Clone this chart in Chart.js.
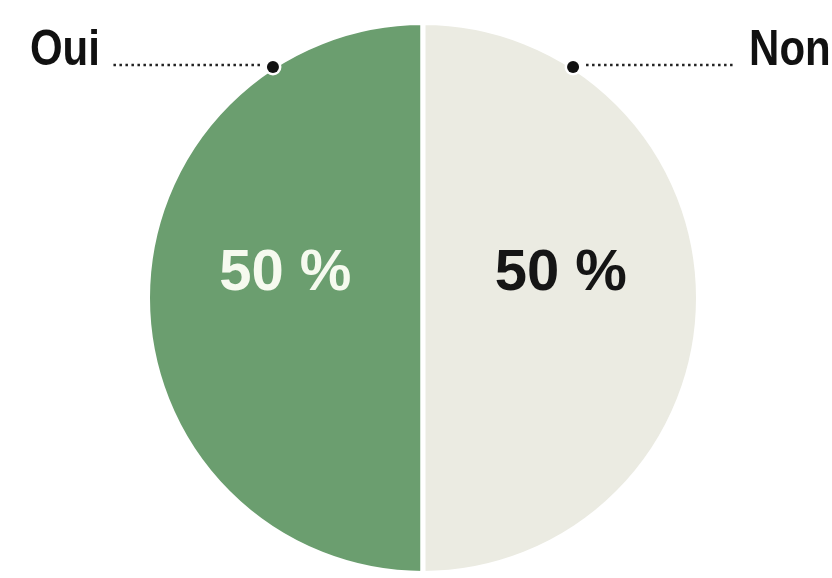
<!DOCTYPE html>
<html>
<head>
<meta charset="utf-8">
<title>Oui / Non</title>
<script src="https://cdn.jsdelivr.net/npm/chart.js"></script>
<style>
    html, body { margin: 0; padding: 0; background: #ffffff; }
    #pie { display: block; }
</style>
</head>
<body>
<canvas id="pie" width="832" height="578"></canvas>
<script>
"use strict";

// data
var categories = ["Oui", "Non"];
var shares = [50, 50];
var sliceColors = ["#6b9e6f", "#ebebe2"];
var shareTextColors = ["#f6faef", "#151515"];

// draws the "50 %" labels and the Oui / Non callouts
var calloutPlugin = {
    id: "callouts",
    afterDatasetsDraw: function(chart) {
        var ctx = chart.ctx;
        var meta = chart.getDatasetMeta(0);
        ctx.save();
        meta.data.forEach(function(arc, i) {
            var mid = (arc.startAngle + arc.endAngle) / 2;
            var r = arc.outerRadius;
            var left = Math.cos(mid) < 0;

            // share in the middle of the slice
            ctx.font = "bold 58px 'Liberation Sans', Arial, sans-serif";
            ctx.fillStyle = shareTextColors[i];
            ctx.textAlign = "center";
            ctx.textBaseline = "alphabetic";
            ctx.fillText(shares[i] + " %", arc.x + Math.cos(mid) * r * 0.5, arc.y - 8);

            // dot on the rim, a bit off the top
            var a = -Math.PI / 2 + (left ? -0.576 : 0.576);
            var dx = arc.x + Math.cos(a) * r;
            var dy = arc.y + Math.sin(a) * r;
            var dir = left ? -1 : 1;

            ctx.beginPath();
            ctx.arc(dx, dy, 8.5, 0, Math.PI * 2);
            ctx.fillStyle = "#ffffff";
            ctx.fill();
            ctx.beginPath();
            ctx.arc(dx, dy, 6, 0, Math.PI * 2);
            ctx.fillStyle = "#111111";
            ctx.fill();

            // dotted leader
            ctx.beginPath();
            ctx.setLineDash([2.5, 3.5]);
            ctx.lineWidth = 2.5;
            ctx.strokeStyle = "#222222";
            ctx.moveTo(dx + dir * 13, dy - 2);
            ctx.lineTo(dx + dir * 160, dy - 2);
            ctx.stroke();
            ctx.setLineDash([]);

            // category name, squeezed to look condensed
            ctx.save();
            ctx.translate(dx + dir * (left ? 173 : 176), dy - 2);
            ctx.scale(0.84, 1);
            ctx.font = "bold 50px 'Liberation Sans', Arial, sans-serif";
            ctx.fillStyle = "#111111";
            ctx.textAlign = left ? "right" : "left";
            ctx.fillText(categories[i], 0, 0);
            ctx.restore();
        });
        ctx.restore();
    }
};

var pieChart = new Chart(document.getElementById("pie").getContext("2d"), {
    type: "pie",
    data: {
        labels: categories,
        datasets: [{
            data: shares,
            backgroundColor: sliceColors,
            borderColor: "#ffffff",
            borderWidth: 5
        }]
    },
    options: {
        responsive: false,
        animation: false,
        rotation: 180,
        layout: { padding: { top: 20, bottom: 2, left: 14, right: 0 } },
        plugins: {
            legend: { display: false },
            tooltip: { enabled: false }
        }
    },
    plugins: [calloutPlugin]
});
</script>
</body>
</html>
